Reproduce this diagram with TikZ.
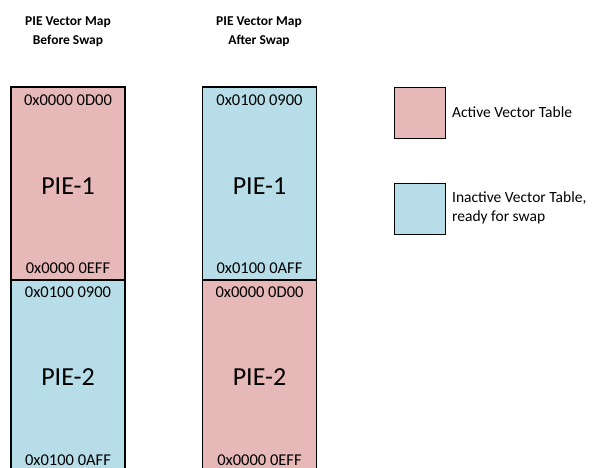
\documentclass[tikz,border=0pt]{standalone}
\usepackage{fontspec}
\setmainfont{Carlito}
\definecolor{activepink}{RGB}{230, 184, 183}
\definecolor{inactiveblue}{RGB}{183, 222, 232}
\usetikzlibrary{positioning}

\begin{document}
\begin{tikzpicture}[x=1pt, y=-1pt,
    membox/.style={draw=black, line width=1.6pt, minimum width=114pt, minimum height=193pt, inner sep=0pt},
    addr/.style={font=\fontsize{16.5}{18}\selectfont},
    pielabel/.style={font=\fontsize{26}{30}\selectfont},
    title/.style={font=\fontsize{13.5}{19}\selectfont\bfseries, align=center},
    keybox/.style={draw=black, line width=1.6pt, minimum size=51pt, inner sep=0pt}]
  \useasboundingbox (0, 0) rectangle (592, 468);

  % Titles
  \node[title] (titleBefore) at (68, 31.5) {PIE Vector Map\\Before Swap};
  \node[title] (titleAfter) at (259, 31.5) {PIE Vector Map\\After Swap};

  % Before swap
  \node[membox, fill=activepink] (before1) at (68, 183.5) {};
  \node[membox, fill=inactiveblue] (before2) at (68, 376.5) {};
  \node[addr] at (68, 100) {0x0000 0D00};
  \node[pielabel] at (68, 186) {PIE-1};
  \node[addr] at (68, 268) {0x0000 0EFF};
  \node[addr] at (68, 292) {0x0100 0900};
  \node[pielabel] at (68, 377) {PIE-2};
  \node[addr] at (68, 460) {0x0100 0AFF};

  % After swap
  \node[membox, fill=inactiveblue] (after1) at (259.5, 183.5) {};
  \node[membox, fill=activepink] (after2) at (259.5, 376.5) {};
  \node[addr] at (259.5, 100) {0x0100 0900};
  \node[pielabel] at (259.5, 186) {PIE-1};
  \node[addr] at (259.5, 268) {0x0100 0AFF};
  \node[addr] at (259.5, 292) {0x0000 0D00};
  \node[pielabel] at (259.5, 377) {PIE-2};
  \node[addr] at (259.5, 460) {0x0000 0EFF};

  % Legend
  \node[keybox, fill=activepink] (keyActive) at (420, 113) {};
  \node[keybox, fill=inactiveblue] (keyInactive) at (420, 209) {};
  \node[font=\fontsize{15.5}{18}\selectfont, anchor=west, inner sep=0pt] (txtActive) at (452, 112) {Active Vector Table};
  \node[font=\fontsize{15.5}{19}\selectfont, anchor=west, align=left, inner sep=0pt] (txtInactive) at (452, 208) {Inactive Vector Table,\\ready for swap};
\end{tikzpicture}
\end{document}
